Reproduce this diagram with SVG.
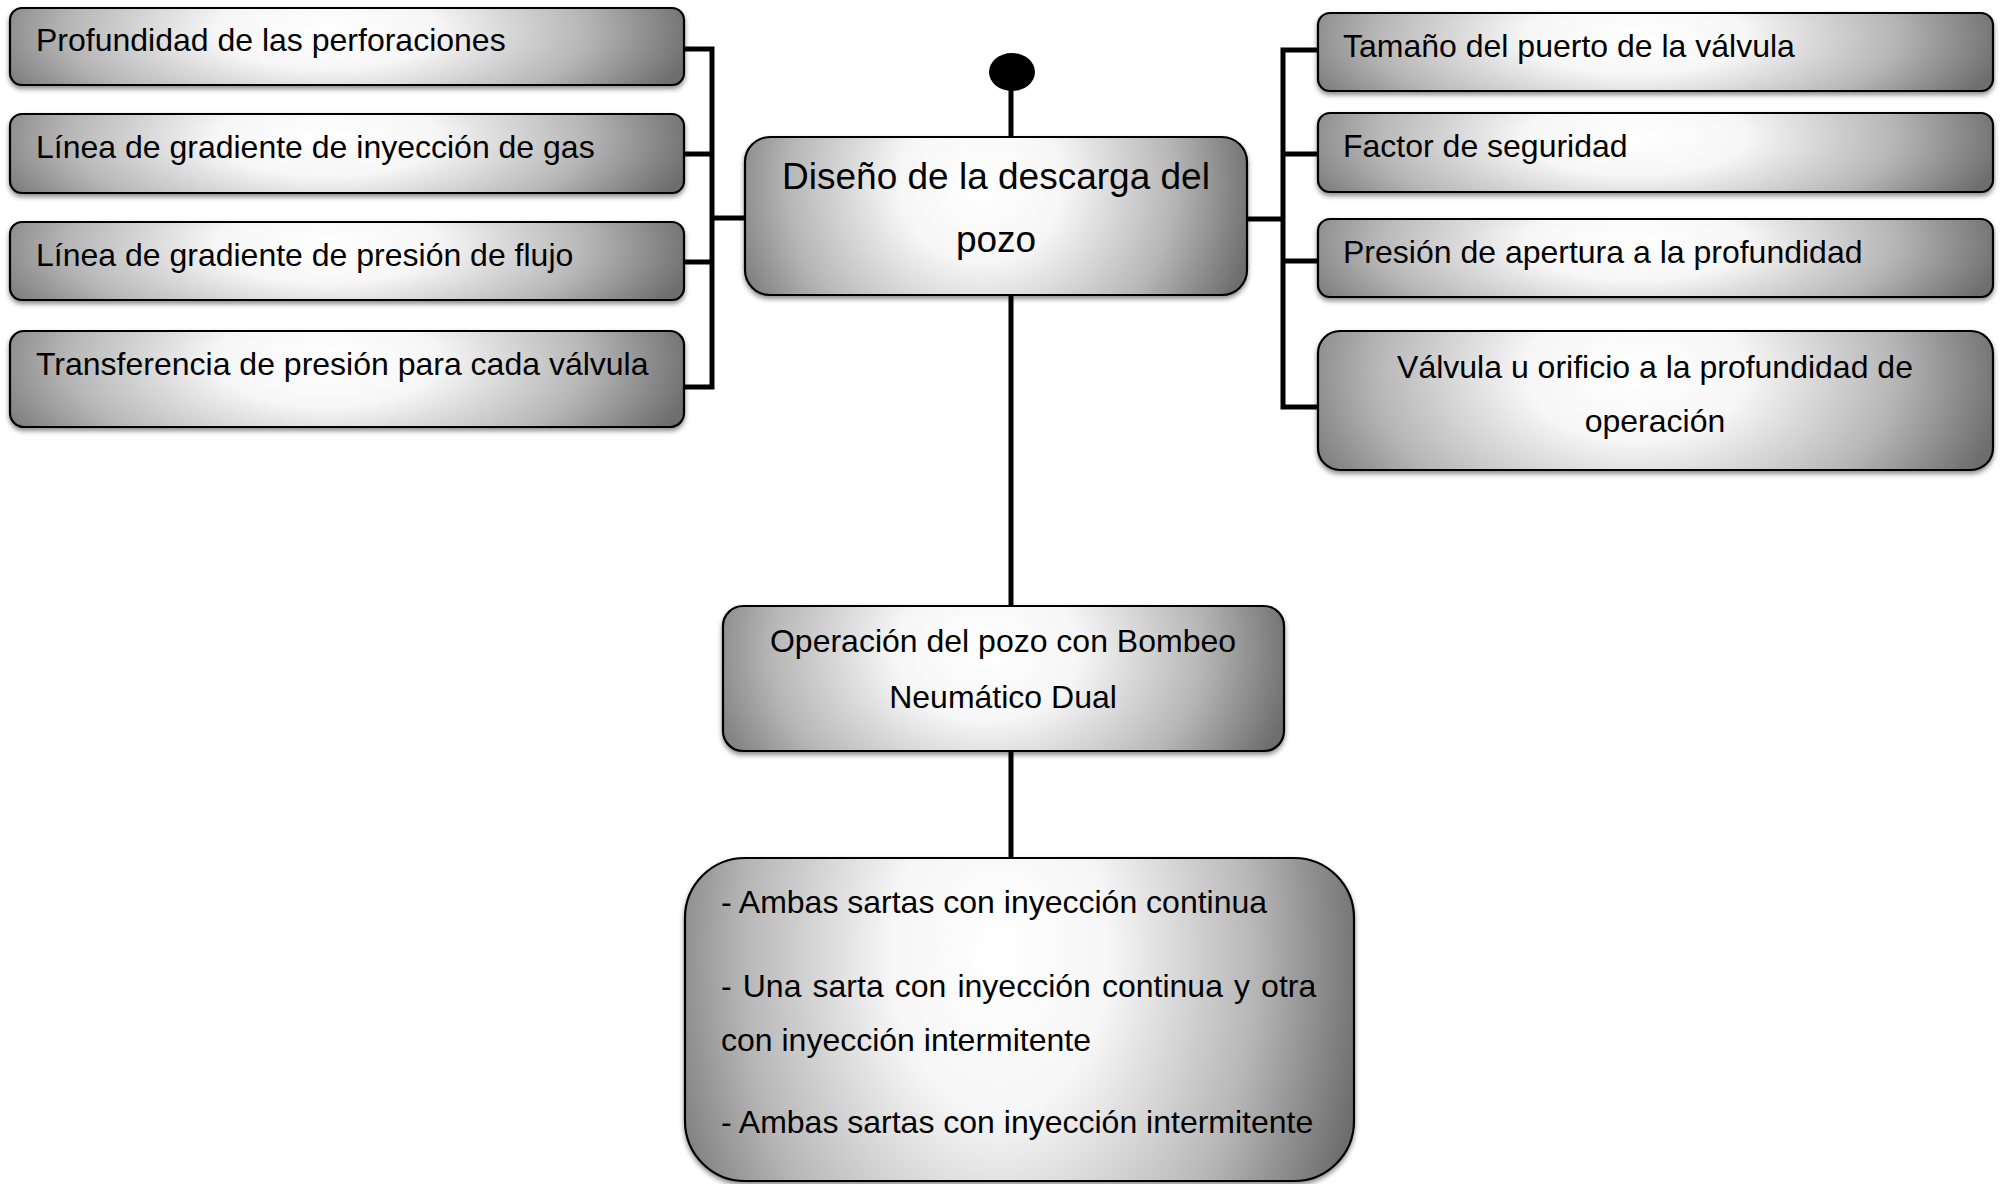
<svg xmlns="http://www.w3.org/2000/svg" width="2001" height="1184" viewBox="0 0 2001 1184">
<style>
.box{stroke:#000;stroke-width:2.2;fill:url(#g);filter:url(#sh)}
.t{font-family:"Liberation Sans",Arial,sans-serif;font-size:32px;fill:#000}
.c{text-anchor:middle}
.ln{fill:none;stroke:#000;stroke-width:5}
</style>
<defs>
<radialGradient id="g" cx="0.47" cy="0.3" r="0.55" gradientTransform="translate(0.47,0.3) scale(1,3) translate(-0.47,-0.3)">
<stop offset="0" stop-color="#ffffff"/>
<stop offset="0.3" stop-color="#f6f6f6"/>
<stop offset="0.7" stop-color="#b6b6b6"/>
<stop offset="1" stop-color="#6e6e6e"/>
</radialGradient>
<filter id="sh" x="-5%" y="-10%" width="110%" height="130%">
<feDropShadow dx="0" dy="3" stdDeviation="2.5" flood-color="#000" flood-opacity="0.45"/>
</filter>
</defs>
<rect width="2001" height="1184" fill="#fff"/>
<g id="connectors">
<path class="ln" d="M684,49 H712 V387 H684 M684,154 H712 M684,262 H712 M712,218 H745"/>
<path class="ln" d="M1318,50 H1283 V407 H1318 M1283,154 H1318 M1283,261 H1318 M1247,219 H1283"/>
<path class="ln" d="M1011,88 V137 M1011,295 V606 M1011,751 V858"/>
</g>
<g id="start"><ellipse cx="1012" cy="72" rx="23" ry="19" fill="#000"/></g>
<g id="n-l1"><rect class="box" x="10" y="8" width="674" height="77" rx="12"/><text class="t" x="36" y="51">Profundidad de las perforaciones</text></g>
<g id="n-l2"><rect class="box" x="10" y="114" width="674" height="79" rx="12"/><text class="t" x="36" y="158">Línea de gradiente de inyección de gas</text></g>
<g id="n-l3"><rect class="box" x="10" y="222" width="674" height="78" rx="12"/><text class="t" x="36" y="266">Línea de gradiente de presión de flujo</text></g>
<g id="n-l4"><rect class="box" x="10" y="331" width="674" height="96" rx="14"/><text class="t" x="36" y="375">Transferencia de presión para cada válvula</text></g>
<g id="n-center"><rect class="box" x="745" y="137" width="502" height="158" rx="25"/><text class="t c" style="font-size:37px" x="996" y="189">Diseño de la descarga del</text><text class="t c" style="font-size:37px" x="996" y="252">pozo</text></g>
<g id="n-r1"><rect class="box" x="1318" y="13" width="675" height="78" rx="12"/><text class="t" x="1343" y="57">Tamaño del puerto de la válvula</text></g>
<g id="n-r2"><rect class="box" x="1318" y="113" width="675" height="79" rx="12"/><text class="t" x="1343" y="157">Factor de seguridad</text></g>
<g id="n-r3"><rect class="box" x="1318" y="219" width="675" height="78" rx="12"/><text class="t" x="1343" y="263">Presión de apertura a la profundidad</text></g>
<g id="n-r4"><rect class="box" x="1318" y="331" width="675" height="139" rx="22"/><text class="t c" x="1655" y="378">Válvula u orificio a la profundidad de</text><text class="t c" x="1655" y="432">operación</text></g>
<g id="n-op"><rect class="box" x="723" y="606" width="561" height="145" rx="20"/><text class="t c" x="1003" y="652">Operación del pozo con Bombeo</text><text class="t c" x="1003" y="708">Neumático Dual</text></g>
<g id="n-modes"><rect class="box" x="685" y="858" width="669" height="323" rx="60"/>
<text class="t" x="721" y="913">- Ambas sartas con inyección continua</text>
<text class="t" x="721" y="997" word-spacing="2.2">- Una sarta con inyección continua y otra</text>
<text class="t" x="721" y="1051">con inyección intermitente</text>
<text class="t" x="721" y="1133">- Ambas sartas con inyección intermitente</text>
</g>
</svg>
